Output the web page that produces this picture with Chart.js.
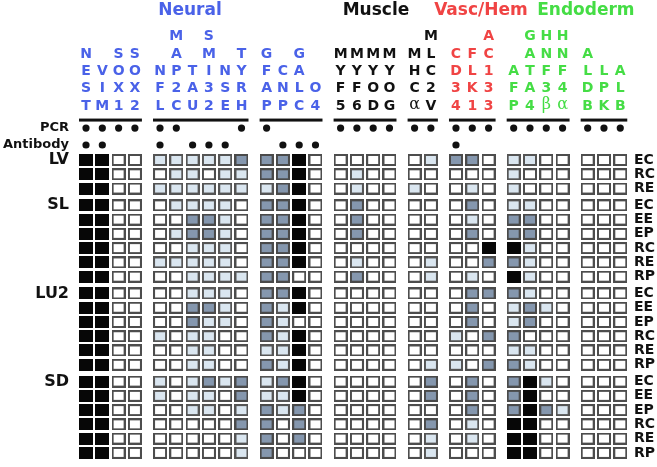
<!DOCTYPE html>
<html lang="en">
<head>
    <meta charset="UTF-8">
    <title>Marker expression</title>
    <script src="https://cdn.jsdelivr.net/npm/chart.js"></script>
    <style>
        html, body {
            margin: 0;
            padding: 0;
            background: #fff;
        }
        .container {
            width: 657px;
            height: 467px;
        }
    </style>
</head>
<body>
    <div class="container">
        <canvas id="markerChart" width="657" height="467"></canvas>
    </div>

    <script>
        const groupTitles = ['Neural', 'Muscle', 'Vasc/Hem', 'Endoderm'];
        const groupColors = ['#4a62e8', '#111111', '#f04444', '#45dd45'];

        // marker sets (one bar over each), with the title group they belong to
        const markerSets = [
            [0, ['NEST', 'VIM', 'SOX1', 'SOX2']],
            [0, ['NFL', 'MAP2C', 'TAU', 'SMI32', 'NSE', 'TYRH']],
            [0, ['GFAP', 'CNP', 'GALC', 'O4']],
            [1, ['MYF5', 'MYF6', 'MYOD', 'MYOG']],
            [1, ['MHCα', 'MLC2V']],
            [2, ['CD34', 'FLK1', 'AC133']],
            [3, ['AFP', 'GATA4', 'HNF3β', 'HNF4α']],
            [3, ['ALDB', 'LPK', 'ALB']]
        ];

        const pcr      = [1,1,1,1, 1,1,0,0,0,1, 1,0,0,0, 1,1,1,1, 1,1, 1,1,1, 1,1,1,1, 1,1,1];
        const antibody = [1,1,0,0, 1,0,1,1,1,0, 0,1,1,1, 0,0,0,0, 0,0, 1,0,0, 0,0,0,0, 0,0,0];

        const tissues = ['LV', 'SL', 'LU2', 'SD'];
        const conditions = [
            ['EC', 'RC', 'RE'],
            ['EC', 'EE', 'EP', 'RC', 'RE', 'RP'],
            ['EC', 'EE', 'EP', 'RC', 'RE', 'RP'],
            ['EC', 'EE', 'EP', 'RC', 'RE', 'RP']
        ];

        // 0 = none, 1 = weak, 2 = moderate, 3 = strong
        const LV = [
            [3,3,0,0, 1,1,1,1,1,2, 2,2,3,0, 0,0,0,0, 0,1, 2,2,0, 1,1,0,0, 0,0,0],
            [3,3,0,0, 0,1,1,0,1,1, 2,2,3,0, 0,1,0,0, 0,0, 0,0,0, 1,0,0,0, 0,0,0],
            [3,3,0,0, 1,1,1,1,1,1, 1,2,3,0, 0,1,0,0, 1,0, 0,1,0, 1,0,0,0, 0,0,0]
        ];
        const SL = [
            [3,3,0,0, 0,1,1,1,1,0, 2,2,3,0, 0,2,0,0, 0,0, 0,2,0, 1,1,0,0, 0,0,0],
            [3,3,0,0, 0,0,2,2,1,0, 2,2,3,0, 0,2,0,0, 0,0, 0,1,0, 2,2,0,0, 0,0,0],
            [3,3,0,0, 0,1,2,2,1,0, 2,2,3,0, 0,2,0,0, 0,0, 0,2,0, 2,2,0,0, 0,0,0],
            [3,3,0,0, 0,0,1,1,1,0, 2,2,3,0, 0,0,0,0, 0,0, 0,0,3, 3,1,0,0, 0,0,0],
            [3,3,0,0, 1,1,1,1,1,0, 2,2,3,0, 0,1,0,0, 0,1, 0,0,2, 2,1,0,0, 0,0,0],
            [3,3,0,0, 0,0,1,1,1,1, 2,2,0,0, 0,2,0,0, 0,1, 0,1,0, 3,1,0,0, 0,0,0]
        ];
        const LU2 = [
            [3,3,0,0, 0,0,1,1,1,0, 2,2,3,0, 0,0,0,0, 0,0, 0,2,2, 2,1,0,0, 0,0,0],
            [3,3,0,0, 0,0,2,2,1,0, 2,1,3,0, 0,0,0,0, 0,0, 0,2,0, 1,2,1,0, 0,0,0],
            [3,3,0,0, 0,0,2,1,1,0, 2,1,0,0, 0,0,0,0, 0,0, 0,2,0, 1,2,0,0, 0,0,0],
            [3,3,0,0, 1,0,1,1,0,0, 2,1,3,0, 0,0,0,0, 0,0, 1,0,2, 2,0,0,0, 0,0,0],
            [3,3,0,0, 0,0,1,1,0,0, 1,1,3,0, 0,0,0,0, 0,0, 0,0,0, 1,1,0,0, 0,0,0],
            [3,3,0,0, 0,0,1,1,0,0, 2,1,3,0, 0,0,0,0, 0,1, 1,0,2, 2,1,0,0, 0,0,0]
        ];
        const SD = [
            [3,3,0,0, 1,0,1,2,1,2, 1,2,3,0, 0,0,0,0, 0,2, 0,2,0, 2,3,1,0, 0,0,0],
            [3,3,0,0, 1,0,1,1,0,2, 1,1,3,0, 0,0,0,0, 0,2, 0,2,0, 2,3,0,0, 0,0,0],
            [3,3,0,0, 0,0,1,1,0,1, 2,1,2,0, 0,0,0,0, 0,0, 0,2,0, 2,3,2,1, 0,0,0],
            [3,3,0,0, 0,0,0,0,0,2, 2,0,2,0, 0,0,0,0, 0,2, 0,1,0, 3,3,0,0, 0,0,0],
            [3,3,0,0, 0,0,0,0,0,1, 2,0,2,0, 0,0,0,0, 0,1, 0,1,0, 3,3,0,0, 0,0,0],
            [3,3,0,0, 0,0,0,0,0,1, 2,0,0,0, 0,0,0,0, 0,1, 0,0,0, 3,3,0,0, 0,0,0]
        ];
        const tissueLevels = [LV, SL, LU2, SD];

        const levelFill = ['#ffffff', '#dae6f0', '#8597ae', '#070707'];
        const levelEdge = ['#4d4d4d', '#555555', '#4a4a4a', '#070707'];

        // layout, in axis units
        const SET_GAP = 0.54;       // extra space between marker sets
        const TISSUE_GAP = 0.18;    // extra space between tissues
        const X_MIN = -0.86, X_MAX = 33.5;
        const Y_MIN = -11.22, Y_MAX = 21.53;
        const Y_PCR = -2.24, Y_AB = -1.05, Y_BAR = -2.8, Y_LETTER = -3.79, LETTER_STEP = 1.213, Y_TITLE = -10.48;
        const titleX = [6.38, 17.79, 24.23, 30.67];
        const CELL_W = 14, CELL_H = 12;

        // column positions
        const colX = [];
        const setCols = [];
        markerSets.forEach(([g, genes], s) => {
            const cols = [];
            genes.forEach(() => {
                const c = colX.length;
                colX.push(c + s * SET_GAP);
                cols.push(c);
            });
            setCols.push(cols);
        });

        // row positions
        const rowY = [], rowLabels = [], tissueY = [];
        tissues.forEach((t, ti) => {
            conditions[ti].forEach((cond, ci) => {
                const y = rowY.length + ti * TISSUE_GAP;
                if (ci === 0) tissueY.push(y);
                rowY.push(y);
                rowLabels.push(cond);
            });
        });

        const cells = [];
        let r = 0;
        tissueLevels.forEach(rows => {
            rows.forEach(vals => {
                vals.forEach((v, c) => cells.push({ x: colX[c], y: rowY[r], level: v }));
                r++;
            });
        });

        const dots = [];
        colX.forEach((x, c) => {
            if (pcr[c]) dots.push({ x: x, y: Y_PCR });
            if (antibody[c]) dots.push({ x: x, y: Y_AB });
        });

        function cellImage(level) {
            const c = document.createElement('canvas');
            c.width = CELL_W;
            c.height = CELL_H;
            const g = c.getContext('2d');
            g.fillStyle = levelEdge[level];
            g.fillRect(0, 0, CELL_W, CELL_H);
            g.fillStyle = levelFill[level];
            g.fillRect(2, 2, CELL_W - 4, CELL_H - 4);
            return c;
        }
        const cellImages = [0, 1, 2, 3].map(cellImage);

        const leftTicks = [Y_PCR, Y_AB].concat(tissueY);
        const leftLabels = ['PCR', 'Antibody'].concat(tissues);

        const headerPlugin = {
            id: 'header',
            afterDatasetsDraw(chart) {
                const ctx = chart.ctx;
                const xs = chart.scales.x, ys = chart.scales.y;
                ctx.save();
                ctx.textAlign = 'center';
                ctx.textBaseline = 'middle';

                groupTitles.forEach((t, i) => {
                    ctx.font = 'bold 17px "DejaVu Sans"';
                    ctx.fillStyle = groupColors[i];
                    ctx.fillText(t, xs.getPixelForValue(titleX[i]), ys.getPixelForValue(Y_TITLE));
                });

                markerSets.forEach(([g, genes], s) => {
                    const cols = setCols[s];
                    genes.forEach((gene, k) => {
                        const x = xs.getPixelForValue(colX[cols[k]]);
                        const letters = Array.from(gene);
                        letters.forEach((ch, i) => {
                            const y = ys.getPixelForValue(Y_LETTER - (letters.length - 1 - i) * LETTER_STEP);
                            const greek = ch === 'α' || ch === 'β';
                            ctx.font = greek ? '16px "DejaVu Serif"' : 'bold 14px "DejaVu Sans"';
                            ctx.fillStyle = groupColors[g];
                            ctx.fillText(ch, x, y + (greek ? -1 : 0));
                        });
                    });
                    const x0 = xs.getPixelForValue(colX[cols[0]]) - CELL_W / 2;
                    const x1 = xs.getPixelForValue(colX[cols[cols.length - 1]]) + CELL_W / 2;
                    const yb = ys.getPixelForValue(Y_BAR);
                    ctx.fillStyle = '#111';
                    ctx.fillRect(x0, yb - 1.5, x1 - x0, 3);
                });
                ctx.restore();
            }
        };

        const ctx = document.getElementById('markerChart').getContext('2d');
        const markerChart = new Chart(ctx, {
            type: 'scatter',
            data: {
                datasets: [{
                    label: 'Expression',
                    data: cells,
                    pointStyle: c => cellImages[c.raw ? c.raw.level : 0],
                    pointRadius: 7,
                    pointHoverRadius: 7
                }, {
                    label: 'Detected',
                    data: dots,
                    pointStyle: 'circle',
                    pointRadius: 3.6,
                    backgroundColor: '#111',
                    borderWidth: 0
                }]
            },
            options: {
                responsive: false,
                animation: false,
                events: [],
                layout: { padding: 0, autoPadding: false },
                plugins: {
                    legend: { display: false },
                    tooltip: { enabled: false }
                },
                scales: {
                    x: {
                        type: 'linear',
                        display: false,
                        min: X_MIN,
                        max: X_MAX
                    },
                    y: {
                        type: 'linear',
                        position: 'left',
                        reverse: true,
                        min: Y_MIN,
                        max: Y_MAX,
                        afterFit: s => { s.width = 72; s.paddingTop = 0; s.paddingBottom = 0; },
                        afterBuildTicks: s => { s.ticks = leftTicks.map(v => ({ value: v })); },
                        grid: { display: false, drawTicks: false },
                        border: { display: false },
                        ticks: {
                            autoSkip: false,
                            padding: 3,
                            color: '#111',
                            callback: (v, i) => leftLabels[i],
                            font: c => ({ family: 'DejaVu Sans', weight: 'bold', size: c.index < 2 ? 13 : 16 })
                        }
                    },
                    y2: {
                        type: 'linear',
                        position: 'right',
                        reverse: true,
                        min: Y_MIN,
                        max: Y_MAX,
                        afterFit: s => { s.width = 25; s.paddingTop = 0; s.paddingBottom = 0; },
                        afterBuildTicks: s => { s.ticks = rowY.map(v => ({ value: v })); },
                        grid: { display: false, drawTicks: false },
                        border: { display: false },
                        ticks: {
                            autoSkip: false,
                            padding: 2,
                            color: '#111',
                            callback: (v, i) => rowLabels[i],
                            font: { family: 'DejaVu Sans', weight: 'bold', size: 14 }
                        }
                    }
                }
            },
            plugins: [headerPlugin]
        });
    </script>
</body>
</html>
